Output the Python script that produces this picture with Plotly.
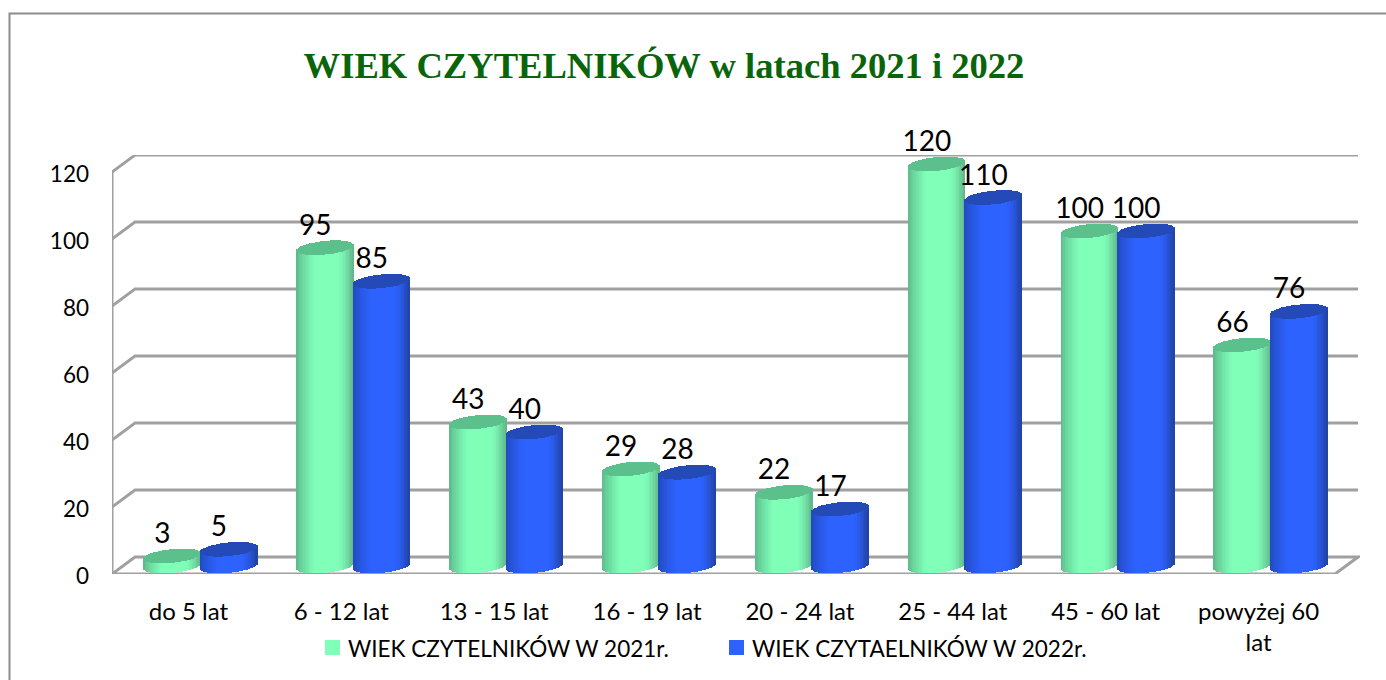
import math
import plotly.graph_objects as go

# ---- data ----
categories = ["do 5 lat", "6 - 12 lat", "13 - 15 lat", "16 - 19 lat",
              "20 - 24 lat", "25 - 44 lat", "45 - 60 lat", "powyżej 60<br>lat"]
values_2021 = [3, 95, 43, 29, 22, 120, 100, 66]
values_2022 = [5, 85, 40, 28, 17, 110, 100, 76]
name_2021 = "WIEK CZYTELNIKÓW W 2021r."
name_2022 = "WIEK CZYTAELNIKÓW W 2022r."
title = "WIEK CZYTELNIKÓW w latach 2021 i 2022"
y_ticks = [0, 20, 40, 60, 80, 100, 120]

# ---- layout geometry (pixels of the 1386x680 page) ----
W, H = 1386, 680
PLOT_L, PLOT_R, PLOT_T, PLOT_B = 112, 1360, 155, 574
PX_PER_CAT = 152.875
PX_PER_UNIT = 3.35
DEPTH_X, DEPTH_Y = 23 / PX_PER_CAT, 17 / PX_PER_UNIT
x_range = [-0.5, -0.5 + (PLOT_R - PLOT_L) / PX_PER_CAT]
y_range = [0, (PLOT_B - PLOT_T) / PX_PER_UNIT]
FRONT_R = -0.5 + len(categories)

R = 28.5 / PX_PER_CAT           # cylinder half width
B = 6.8 / PX_PER_UNIT           # ellipse half height
TILT = 2.8 / PX_PER_UNIT        # right side of the ellipse is higher
LIFT = 8 / PX_PER_UNIT          # base ellipse centre above the floor line
N_STRIPS = 40


def lerp(c1, c2, t):
    return "rgb(%d,%d,%d)" % tuple(round(a + (b - a) * t) for a, b in zip(c1, c2))


def shade(u, edge_l, mid, edge_r):
    if u < -0.35:
        return lerp(edge_l, mid, ((u + 1) / 0.65) ** 0.7)
    if u > 0.45:
        return lerp(mid, edge_r, ((u - 0.45) / 0.55) ** 1.5)
    return lerp(mid, mid, 0)


def cylinder_traces(values, offset, edge_l, mid, edge_r, cap):
    xs, widths, bases, heights, colors = [], [], [], [], []
    cx, cw, cb, ch = [], [], [], []
    step = 2 * R / N_STRIPS
    for i, v in enumerate(values):
        centre = i + offset
        for k in range(N_STRIPS):
            u = -1 + (k + 0.5) * 2 / N_STRIPS
            half = B * math.sqrt(max(0, 1 - u * u))
            slant = TILT * u
            low_base = LIFT - half + slant
            top = LIFT + v
            low_top = top - half + slant
            high_top = top + half + slant
            x = centre + u * R
            xs.append(x)
            widths.append(step * 1.15)
            bases.append(low_base)
            heights.append(low_top - low_base)
            colors.append(shade(u, edge_l, mid, edge_r))
            cx.append(x)
            cw.append(step * 1.15)
            cb.append(low_top)
            ch.append(high_top - low_top)
    common = dict(showlegend=False, hoverinfo="skip", marker_line_width=0, cliponaxis=False)
    return [
        go.Bar(x=xs, y=heights, base=bases, width=widths, marker_color=colors, **common),
        go.Bar(x=cx, y=ch, base=cb, width=cw, marker_color=cap, **common),
    ]


OFF_2021 = -16 / PX_PER_CAT
OFF_2022 = 40.5 / PX_PER_CAT
LABEL_DX = -10 / PX_PER_CAT
LABEL_DY = 6.0 / PX_PER_UNIT

GREEN = (128, 255, 185)
BLUE = (45, 98, 255)

fig = go.Figure()
for tr in cylinder_traces(values_2021, OFF_2021, (88, 180, 135), GREEN, (96, 180, 138), "rgb(92,192,140)"):
    fig.add_trace(tr)
for tr in cylinder_traces(values_2022, OFF_2022, (33, 72, 185), BLUE, (32, 66, 160), "rgb(36,74,184)"):
    fig.add_trace(tr)

# data labels
label_font = dict(family="Lato, sans-serif", size=28, color="#000000")
for vals, off in ((values_2021, OFF_2021), (values_2022, OFF_2022)):
    fig.add_trace(go.Scatter(
        x=[i + off + LABEL_DX for i in range(len(vals))],
        y=[v + LIFT + LABEL_DY for v in vals],
        text=[str(v) for v in vals],
        mode="text", textposition="top center", textfont=label_font,
        showlegend=False, hoverinfo="skip", cliponaxis=False))

# 3D-looking walls, grid and floor
GRID = dict(color="#a0a0a0", width=2.8)
shapes = []
for v in y_ticks:
    yb = v + DEPTH_Y
    if v == 0:
        continue
    shapes.append(dict(type="path", layer="below", xref="x", yref="y",
                       path=f"M {-0.5} {v} L {-0.5 + DEPTH_X} {yb} L {FRONT_R + DEPTH_X} {yb}",
                       line=GRID))
shapes.append(dict(type="path", layer="below", xref="x", yref="y",
                   path=f"M {-0.5} {y_ticks[-1]} L {-0.5} 0 L {FRONT_R} 0 L {FRONT_R + DEPTH_X} {DEPTH_Y} "
                        f"L {-0.5 + DEPTH_X} {DEPTH_Y} L {-0.5} 0",
                   line=dict(color="#a0a0a0", width=3)))
# chart frame: left and top edges only are inside the picture
shapes.append(dict(type="path", layer="below", xref="paper", yref="paper",
                   path=f"M {9.5 / W} 0 L {9.5 / W} {1 - 13.5 / H} L 1 {1 - 13.5 / H}",
                   line=dict(color="#8c8c8c", width=2)))

# legend, drawn to the reference's tight swatch/text spacing
annotations = []
for nm, col, sx in ((name_2021, GREEN, 325), (name_2022, BLUE, 729)):
    shapes.append(dict(type="rect", xref="paper", yref="paper", line_width=0,
                       x0=sx / W, x1=(sx + 15) / W, y0=1 - 655 / H, y1=1 - 640 / H,
                       fillcolor="rgb(%d,%d,%d)" % col))
    annotations.append(dict(text=nm, xref="paper", yref="paper", showarrow=False,
                            x=(sx + 21) / W, xanchor="left", y=1 - 648 / H, yanchor="middle",
                            font=dict(family="Lato, sans-serif", size=22.5, color="#000000")))

fig.update_layout(
    width=W, height=H, autosize=False,
    margin=dict(l=0, r=0, t=0, b=0),
    paper_bgcolor="white", plot_bgcolor="white",
    barmode="overlay", bargap=0, showlegend=False,
    shapes=shapes, annotations=annotations,
    title=dict(text=f"<b>{title}</b>", x=664 / W, xanchor="center", y=1 - 65 / H, yanchor="middle",
               font=dict(family="Liberation Serif, serif", size=36.6, color="#0a640a")),
    xaxis=dict(domain=[PLOT_L / W, PLOT_R / W], range=x_range, tickmode="array",
               tickvals=list(range(len(categories))), ticktext=categories,
               showgrid=False, zeroline=False, showline=False, ticks="",
               ticklabelstandoff=21, automargin=False,
               tickfont=dict(family="Lato, sans-serif", size=24, color="#000000")),
    yaxis=dict(domain=[1 - PLOT_B / H, 1 - PLOT_T / H], range=y_range, tickmode="array",
               tickvals=y_ticks, ticktext=[str(t) for t in y_ticks],
               showgrid=False, zeroline=False, showline=False, ticks="",
               ticklabelstandoff=22, ticklabelshift=2, automargin=False,
               tickfont=dict(family="Lato, sans-serif", size=22.5, color="#000000")),
)

fig.write_html("out.html", config={"displayModeBar": False},
               post_script="document.body.style.margin='0';document.documentElement.style.overflow='hidden';")
